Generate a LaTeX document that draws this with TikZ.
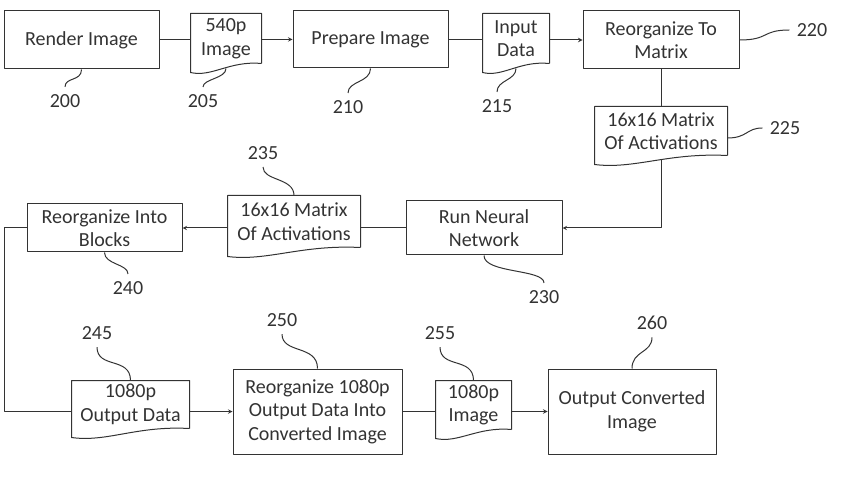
\documentclass[tikz,border=0pt]{standalone}
\usepackage{fontspec}
\setmainfont{Carlito}
\usetikzlibrary{calc}
\begin{document}
\begin{tikzpicture}[x=1pt, y=-1pt, line join=bevel, line width=1pt, color=black!80,
        procnode/.style={shape=rectangle, draw, align=center, inner sep=0pt, font=\fontsize{20}{23.5}\selectfont},
        docnode/.style={shape=rectangle, align=center, inner sep=0pt, font=\fontsize{20}{23.5}\selectfont},
        refnode/.style={inner sep=7pt, font=\fontsize{20}{23.5}\selectfont}]
        \useasboundingbox (0,0) rectangle (843,494);
        % Process boxes
        \node[procnode, minimum width=155pt, minimum height=58pt] (render) at (81.5,40) {Render Image};
        \node[procnode, minimum width=155pt, minimum height=57pt] (prep) at (370.5,39.5) {Prepare Image};
        \node[procnode, minimum width=156pt, minimum height=58pt] (reorg) at (661,40) {Reorganize To\\Matrix};
        \node[procnode, minimum width=156pt, minimum height=54pt] (rnn) at (484,228) {Run Neural\\Network};
        \node[procnode, minimum width=155pt, minimum height=48pt] (blocks) at (104.5,228) {Reorganize Into\\Blocks};
        \node[procnode, minimum width=169pt, minimum height=85pt] (conv) at (317.5,411.5) {Reorganize 1080p\\Output Data Into\\Converted Image};
        \node[procnode, minimum width=168pt, minimum height=85pt] (out) at (632,411.5) {Output Converted\\Image};
        % Data documents
        \node[docnode, minimum width=70pt, minimum height=49pt] (d205) at (226,38.5) {540p\\Image};
        \node[docnode, minimum width=66pt, minimum height=49pt] (d215) at (516,38.5) {Input\\Data};
        \node[docnode, minimum width=132pt, minimum height=48pt] (d225) at (661,131) {16x16 Matrix\\Of Activations};
        \node[docnode, minimum width=132pt, minimum height=51pt] (d235) at (294,221.5) {16x16 Matrix\\Of Activations};
        \node[docnode, minimum width=117pt, minimum height=47pt] (d245) at (130.5,404.5) {1080p\\Output Data};
        \node[docnode, minimum width=75pt, minimum height=48pt] (d255) at (473.5,405) {1080p\\Image};
        \foreach \d in {d205,d215,d225,d235,d245,d255} {
          \draw (\d.south east) -- (\d.north east) -- (\d.north west) -- ($(\d.south west)+(0,9)$)
            .. controls ($(\d.south west)!0.3!(\d.south east)+(0,14)$) and ($(\d.south west)!0.55!(\d.south east)+(0,-3)$) .. (\d.south east);
        }
        % Flow
        \draw (render.east) -- (render.east -| d205.west);
        \draw[-stealth] (prep.west -| d205.east) -- (prep.west);
        \draw (prep.east) -- (prep.east -| d215.west);
        \draw[-stealth] (reorg.west -| d215.east) -- (reorg.west);
        \draw (reorg.south) -- (d225.north);
        \draw[-stealth] ($(d225.south)+(0,5)$) |- (rnn.east);
        \draw (rnn.west) -- (rnn.west -| d235.east);
        \draw[-stealth] (blocks.east -| d235.west) -- (blocks.east);
        \draw (blocks.west) -- ++(-22,0) |- (conv.west -| d245.west);
        \draw[-stealth] (conv.west -| d245.east) -- (conv.west);
        \draw (conv.east) -- (conv.east -| d255.west);
        \draw[-stealth] (out.west -| d255.east) -- (out.west);
        % Reference numerals
        \foreach \n/\x/\y in {200/65/101, 205/203/101, 210/348/107, 215/497/106, 220/812/30, 225/785/128,
                              230/544/297, 235/263/153, 240/128/288, 245/97/333, 250/282/320, 255/440/333, 260/652/323} {
          \node[refnode] (n\n) at (\x,\y) {\n};
        }
        % Leaders
        \draw (render.south) .. controls +(0,12) and +(0,-10) .. (n200.north);
        \draw ($(d205.south)+(0,5)$) .. controls +(0,10) and +(0,-8) .. (n205.north);
        \draw (prep.south) .. controls +(0,14) and +(0,-12) .. (n210.north);
        \draw ($(d215.south)+(0,5)$) .. controls +(0,12) and +(0,-12) .. (n215.north);
        \draw (reorg.east) .. controls +(30,0) and +(-28,0) .. (n220.west);
        \draw ($(d225.east)+(0,7)$) .. controls +(20,0) and +(-16,0) .. (n225.west);
        \draw (rnn.south) .. controls +(0,18) and +(0,-14) .. (n230.north);
        \draw (d235.north) .. controls +(0,-18) and +(0,14) .. (n235.south);
        \draw (blocks.south) .. controls +(0,12) and +(0,-10) .. (n240.north);
        \draw (d245.north) .. controls +(0,-24) and +(0,22) .. (n245.south);
        \draw (conv.north) .. controls +(0,-24) and +(0,20) .. (n250.south);
        \draw (d255.north) .. controls +(0,-24) and +(0,22) .. (n255.south);
        \draw (out.north) .. controls +(0,-18) and +(0,16) .. (n260.south);
\end{tikzpicture}
\end{document}
